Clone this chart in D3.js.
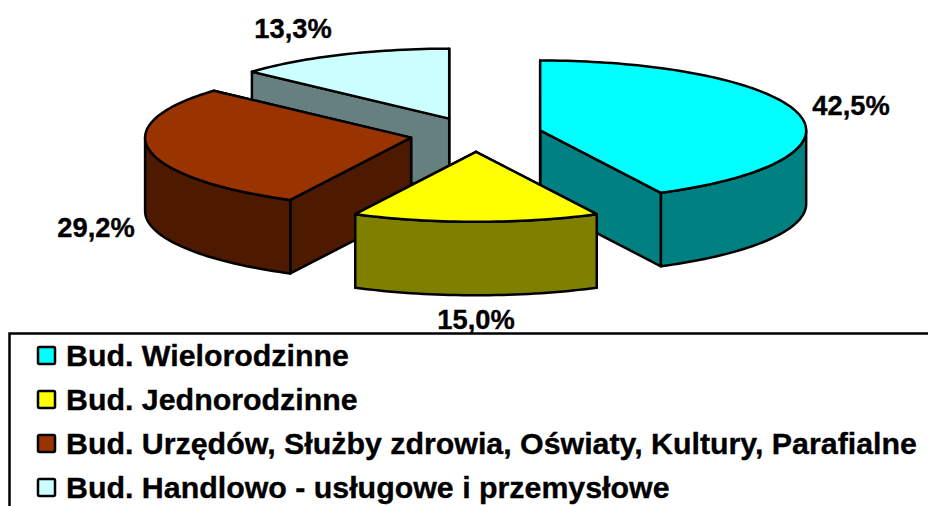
<!DOCTYPE html>
<html lang="en">

<head>
  <meta charset="UTF-8">
  <title>Pie 3D</title>
  <script src="https://d3js.org/d3.v7.min.js"></script>
  <style>
    html, body { margin: 0; padding: 0; background: #fff; }
    svg { display: block; }
    text { font-family: "Liberation Sans", Arial, sans-serif; font-weight: bold; fill: #000; stroke: #000; stroke-width: 0.35; }
  </style>
</head>

<body>
  <div id="my_dataviz"></div>
  <script>

    // chart values
    const categories = [
      "Bud. Wielorodzinne",
      "Bud. Jednorodzinne",
      "Bud. Urzędów, Służby zdrowia, Oświaty, Kultury, Parafialne",
      "Bud. Handlowo - usługowe i przemysłowe"
    ];
    const values = [42.5, 15.0, 29.2, 13.3];
    const colors = ["#00ffff", "#ffff00", "#993300", "#ccffff"];

    const width = 928, height = 506;

    // pie geometry
    const cx = 476, cy = 134.5, rx = 266, squash = 0.263, depth = 73.5, explode = 66;

    const svg = d3.select("#my_dataviz")
      .append("svg")
      .attr("width", width)
      .attr("height", height);

    const slices = d3.pie().sort(null).value(d => d)(values)
      .map((d, i) => {
        const mid = (d.startAngle + d.endAngle) / 2;
        return {
          ...d,
          i,
          color: colors[i],
          ax: cx + explode * Math.sin(mid),
          ay: cy - explode * Math.cos(mid) * squash
        };
      });

    // point on the rim of a slice, dz pushes it down the side wall
    const rim = (s, a, dz = 0) => [s.ax + rx * Math.sin(a), s.ay - rx * squash * Math.cos(a) + dz];
    const arcPoints = (s, a0, a1, dz = 0) => {
      const n = Math.max(2, Math.ceil((a1 - a0) * 40));
      return d3.range(n + 1).map(k => rim(s, a0 + (a1 - a0) * k / n, dz));
    };
    const line = d3.line();
    const closed = pts => line(pts) + "Z";
    const dark = c => {
      const r = d3.rgb(c);
      return d3.rgb(r.r / 2, r.g / 2, r.b / 2).formatHex();
    };

    const drawPoly = (g, d, fill) => g.append("path")
      .attr("d", d)
      .attr("fill", fill)
      .attr("stroke", "#000")
      .attr("stroke-width", 2.5)
      .attr("stroke-linejoin", "round");

    // back to front: the slice whose centre sits highest goes first
    slices.slice().sort((a, b) => a.ay - b.ay).forEach(s => {
      const g = svg.append("g");
      const wall = a => {
        const p = rim(s, a), q = rim(s, a, depth);
        return closed([[s.ax, s.ay], p, q, [s.ax, s.ay + depth]]);
      };
      drawPoly(g, wall(s.endAngle), dark(s.color));
      drawPoly(g, wall(s.startAngle), dark(s.color));

      // outer wall only on the front half
      const a0 = Math.max(s.startAngle, Math.PI / 2), a1 = Math.min(s.endAngle, Math.PI * 1.5);
      if (a1 > a0) {
        drawPoly(g, closed([...arcPoints(s, a0, a1), ...arcPoints(s, a0, a1, depth).reverse()]), dark(s.color));
      }

      drawPoly(g, closed([[s.ax, s.ay], ...arcPoints(s, s.startAngle, s.endAngle)]), s.color);
    });

    // percent labels, same order as values
    const labelX = [851, 476, 96, 293];
    const labelY = [115, 329, 237, 38];
    svg.selectAll(".pct")
      .data(values)
      .join("text")
      .attr("class", "pct")
      .attr("x", (d, i) => labelX[i])
      .attr("y", (d, i) => labelY[i])
      .attr("text-anchor", "middle")
      .attr("font-size", 27.3)
      .text(d => d.toFixed(1).replace(".", ",") + "%");

    // legend frame runs off the page on the right and the bottom
    svg.append("path")
      .attr("d", `M9.5,${height + 2}V333.5H${width + 2}`)
      .attr("fill", "none")
      .attr("stroke", "#000")
      .attr("stroke-width", 2.5);

    const legendY = d3.scalePoint().domain(d3.range(categories.length)).range([355.5, 487.5]);
    const legend = svg.selectAll(".legend")
      .data(categories)
      .join("g")
      .attr("class", "legend")
      .attr("transform", (d, i) => `translate(0,${legendY(i)})`);
    legend.append("rect")
      .attr("x", 38)
      .attr("y", -8.5)
      .attr("width", 17)
      .attr("height", 17)
      .attr("rx", 1.5)
      .attr("fill", (d, i) => colors[i])
      .attr("stroke", "#000")
      .attr("stroke-width", 2.5);
    legend.append("text")
      .attr("x", 66)
      .attr("y", 10.5)
      .attr("font-size", 30.35)
      .text(d => d);

  </script>
</body>

</html>
